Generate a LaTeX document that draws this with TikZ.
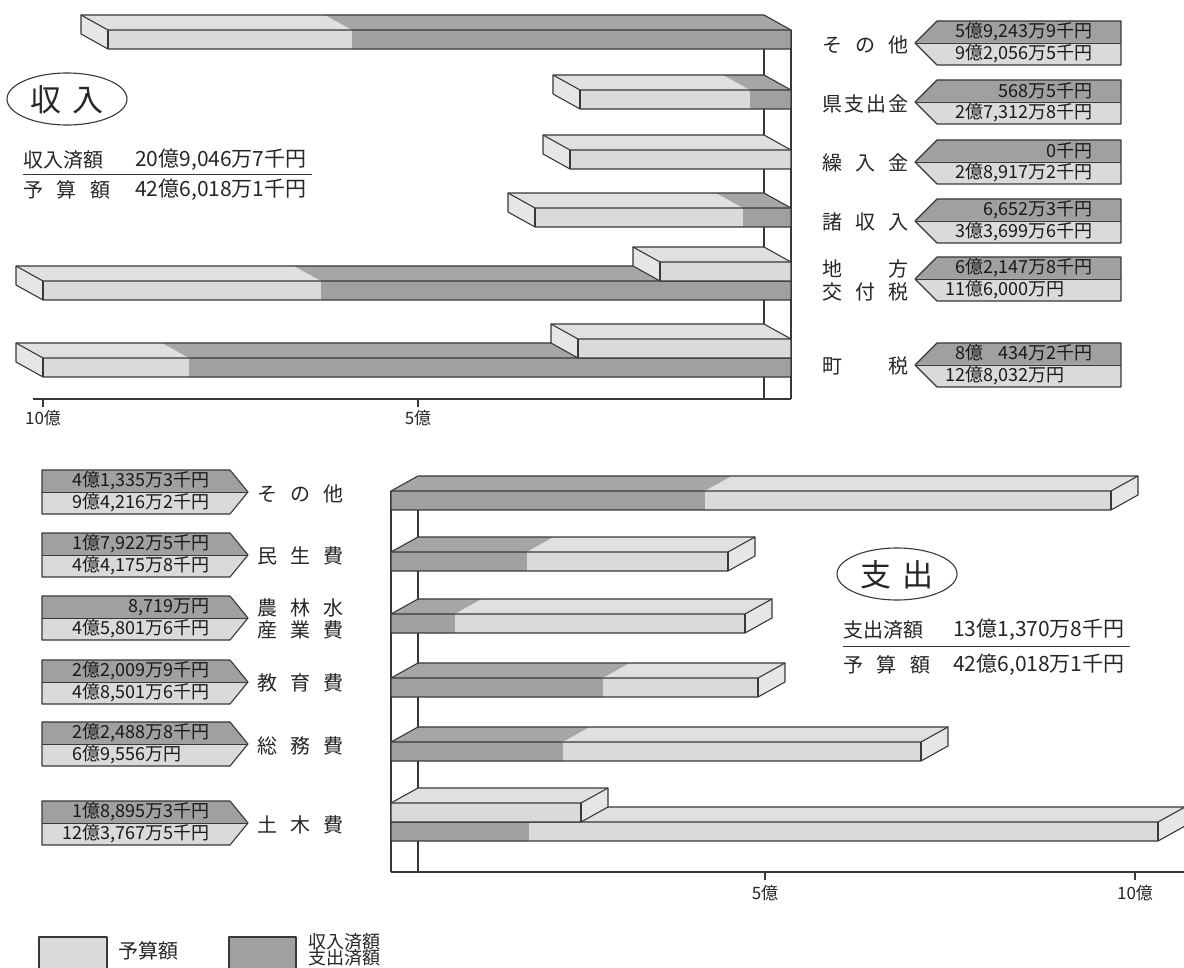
\documentclass[tikz,border=0pt]{standalone}
\usepackage{fontspec}
\newfontfamily\jp{Noto Sans CJK JP}
\definecolor{lt}{HTML}{DADADA}
\definecolor{ltop}{HTML}{E0E0E0}
\definecolor{lcap}{HTML}{E6E6E6}
\definecolor{dk}{HTML}{A0A0A0}
\definecolor{dtop}{HTML}{A6A6A6}
\definecolor{ln}{HTML}{383838}
\tikzset{
  edge/.style={draw=ln,line width=1.1pt,line join=round},
  thin edge/.style={draw=ln,line width=0.7pt},
  num/.style={font=\jp\fontsize{18}{19}\selectfont,inner sep=0pt,text=black!90},
  cat/.style={font=\jp\fontsize{20}{22}\selectfont,inner sep=0pt,anchor=west,text=black!85},
  summ/.style={font=\jp\fontsize{20}{22}\selectfont,inner sep=0pt,anchor=west,text=black!85},
  axlab/.style={font=\jp\fontsize{17}{18}\selectfont,inner sep=0pt,text=black!85},
}
% income bar (grows to the left from x=791): #1 front-left x, #2 front top y, #3 dark boundary x
\newcommand\incbar[3]{%
  \fill[ltop] (#1,#2) -- (#3,#2) -- ({#3-27},{#2-15}) -- ({#1-27},{#2-15}) -- cycle;
  \fill[dtop] (#3,#2) -- (791,#2) -- (764,{#2-15}) -- ({#3-27},{#2-15}) -- cycle;
  \fill[lt] (#1,#2) rectangle (#3,{#2+19});
  \fill[dk] (#3,#2) rectangle (791,{#2+19});
  \fill[lcap] (#1,#2) -- ({#1-27},{#2-15}) -- ({#1-27},{#2+4}) -- (#1,{#2+19}) -- cycle;
  \draw[edge] (791,#2) -- (764,{#2-15}) -- ({#1-27},{#2-15}) -- ({#1-27},{#2+4}) -- (#1,{#2+19}) -- (791,{#2+19}) -- cycle;
  \draw[edge] ({#1-27},{#2-15}) -- (#1,#2) -- (791,#2);
  \draw[edge] (#1,#2) -- (#1,{#2+19});
}
% expenditure bar (grows to the right from x=391): #1 front-right x, #2 front top y, #3 dark boundary x
\newcommand\expbar[3]{%
  \fill[dtop] (391,#2) -- (#3,#2) -- ({#3+27},{#2-15}) -- (418,{#2-15}) -- cycle;
  \fill[ltop] (#3,#2) -- (#1,#2) -- ({#1+27},{#2-15}) -- ({#3+27},{#2-15}) -- cycle;
  \fill[dk] (391,#2) rectangle (#3,{#2+19});
  \fill[lt] (#3,#2) rectangle (#1,{#2+19});
  \fill[lcap] (#1,#2) -- ({#1+27},{#2-15}) -- ({#1+27},{#2+4}) -- (#1,{#2+19}) -- cycle;
  \draw[edge] (391,#2) -- (418,{#2-15}) -- ({#1+27},{#2-15}) -- ({#1+27},{#2+4}) -- (#1,{#2+19}) -- (391,{#2+19}) -- cycle;
  \draw[edge] ({#1+27},{#2-15}) -- (#1,#2) -- (391,#2);
  \draw[edge] (#1,#2) -- (#1,{#2+19});
}
% income label box (points left): #1 name, #2 mid y, #3 upper, #4 lower
\newcommand\inclabel[4]{%
  \fill[dk] (937,{#2-22}) -- (1121,{#2-22}) -- (1121,#2) -- (915,#2) -- cycle;
  \fill[lt] (915,#2) -- (1121,#2) -- (1121,{#2+22}) -- (937,{#2+22}) -- cycle;
  \draw[thin edge] (915,#2) -- (1121,#2);
  \draw[edge] (937,{#2-22}) -- (1121,{#2-22}) -- (1121,{#2+22}) -- (937,{#2+22}) -- (915,#2) -- cycle;
  \node[num,anchor=east] (#1u) at (1093,{#2-11}) {#3};
  \node[num,anchor=east] (#1l) at (1093,{#2+11}) {#4};
}
% expenditure label box (points right)
\newcommand\explabel[4]{%
  \fill[dk] (42,{#2-22}) -- (230,{#2-22}) -- (248,#2) -- (42,#2) -- cycle;
  \fill[lt] (42,#2) -- (248,#2) -- (230,{#2+22}) -- (42,{#2+22}) -- cycle;
  \draw[thin edge] (42,#2) -- (248,#2);
  \draw[edge] (42,{#2-22}) -- (230,{#2-22}) -- (248,#2) -- (230,{#2+22}) -- (42,{#2+22}) -- cycle;
  \node[num,anchor=east] (#1u) at (210,{#2-11}) {#3};
  \node[num,anchor=east] (#1l) at (210,{#2+11}) {#4};
}
\newcommand\spread[1]{\makebox[86pt][s]{#1}}
\begin{document}
\begin{tikzpicture}[x=1pt,y=-1pt]
\useasboundingbox[fill=white] (0,0) rectangle (1184,968);

% ===== income chart frame =====
\draw[edge] (764,15) -- (764,399);
\draw[edge] (791,30) -- (791,399);
\draw[edge] (33,399) -- (791,399);
\draw[edge] (43,399) -- (43,407);
\draw[edge] (418,399) -- (418,407);
\node[axlab] (t10) at (43,418) {10億};
\node[axlab] (t5) at (418,418) {5億};

% income bars
\incbar{108}{30}{352}
\incbar{580}{90}{750}
\incbar{570}{150}{791}
\incbar{535}{208}{743}
\incbar{43}{281}{321}
\incbar{660}{262}{791}
\incbar{43}{358}{189}
\incbar{578}{339}{791}

% income labels
\node[cat] (c1) at (822,45) {\spread{そ\hfill の\hfill 他}};
\node[cat] (c2) at (822,104) {\spread{県\hfill 支\hfill 出\hfill 金}};
\node[cat] (c3) at (822,163) {\spread{繰\hfill 入\hfill 金}};
\node[cat] (c4) at (822,222) {\spread{諸\hfill 収\hfill 入}};
\node[cat] (c5a) at (822,269) {\spread{地\hfill 方}};
\node[cat] (c5b) at (822,292) {\spread{交\hfill 付\hfill 税}};
\node[cat] (c6) at (822,366) {\spread{町\hfill 税}};

\inclabel{ia}{43}{5億9,243万9千円}{9億2,056万5千円}
\inclabel{ib}{102}{568万5千円}{2億7,312万8千円}
\inclabel{ic}{162}{0千円}{2億8,917万2千円}
\inclabel{id}{221}{6,652万3千円}{3億3,699万6千円}
\inclabel{ie}{279}{6億2,147万8千円}{11億6,000万円\phantom{0千}}
\inclabel{if}{365}{8億\phantom{0,}434万2千円}{12億8,032万円\phantom{0千}}

% income summary
\draw[edge,fill=white] (67,99) ellipse [x radius=60,y radius=26];
\node[font=\jp\fontsize{31}{32}\selectfont,inner sep=0pt,text=black!85] (inctitle) at (67,100) {収\,\,入};
\node[summ] (s1a) at (23,160) {収入済額};
\node[summ,font=\jp\fontsize{21}{22}\selectfont] (s1b) at (135,160) {20億9,046万7千円};
\draw[thin edge] (23,174) -- (312,174);
\node[summ] (s2a) at (23,190) {\makebox[87pt][s]{予\hfill 算\hfill 額}};
\node[summ,font=\jp\fontsize{21}{22}\selectfont] (s2b) at (135,190) {42億6,018万1千円};

% ===== expenditure chart frame =====
\draw[edge] (418,476) -- (418,872);
\draw[edge] (391,491) -- (391,872);
\draw[edge] (391,872) -- (1184,872);
\draw[edge] (765,872) -- (765,880);
\draw[edge] (1135,872) -- (1135,880);
\node[axlab] (b5) at (765,893) {5億};
\node[axlab] (b10) at (1135,893) {10億};

% expenditure bars
\expbar{1111}{491}{705}
\expbar{728}{552}{527}
\expbar{745}{614}{455}
\expbar{758}{678}{603}
\expbar{921}{742}{563}
\expbar{1158}{822}{529}
\expbar{581}{803}{391}

% expenditure labels
\node[cat] (e1) at (257,494) {\spread{そ\hfill の\hfill 他}};
\node[cat] (e2) at (257,556) {\spread{民\hfill 生\hfill 費}};
\node[cat] (e3a) at (257,608) {\spread{農\hfill 林\hfill 水}};
\node[cat] (e3b) at (257,630) {\spread{産\hfill 業\hfill 費}};
\node[cat] (e4) at (257,683) {\spread{教\hfill 育\hfill 費}};
\node[cat] (e5) at (257,746) {\spread{総\hfill 務\hfill 費}};
\node[cat] (e6) at (257,825) {\spread{土\hfill 木\hfill 費}};

\explabel{xa}{492}{4億1,335万3千円}{9億4,216万2千円}
\explabel{xb}{555}{1億7,922万5千円}{4億4,175万8千円}
\explabel{xc}{618}{8,719万円}{4億5,801万6千円}
\explabel{xd}{682}{2億2,009万9千円}{4億8,501万6千円}
\explabel{xe}{744}{2億2,488万8千円}{6億9,556万円\phantom{0千}}
\explabel{xf}{823}{1億8,895万3千円}{12億3,767万5千円}

% expenditure summary
\draw[edge,fill=white] (897,574) ellipse [x radius=60,y radius=26];
\node[font=\jp\fontsize{31}{32}\selectfont,inner sep=0pt,text=black!85] (exptitle) at (897,575) {支\,\,出};
\node[summ] (s3a) at (843,630) {支出済額};
\node[summ,font=\jp\fontsize{21}{22}\selectfont] (s3b) at (953,630) {13億1,370万8千円};
\draw[thin edge] (843,646) -- (1130,646);
\node[summ] (s4a) at (843,665) {\makebox[87pt][s]{予\hfill 算\hfill 額}};
\node[summ,font=\jp\fontsize{21}{22}\selectfont] (s4b) at (953,665) {42億6,018万1千円};

% ===== legend =====
\draw[edge,fill=lt] (39,937) rectangle (107,969);
\node[summ] (lg1) at (118,951) {予算額};
\draw[edge,fill=dk] (229,937) rectangle (296,969);
\node[summ,font=\jp\fontsize{18}{19}\selectfont] (lg2) at (308,942) {収入済額};
\node[summ,font=\jp\fontsize{18}{19}\selectfont] (lg3) at (308,958) {支出済額};
\end{tikzpicture}
\end{document}
